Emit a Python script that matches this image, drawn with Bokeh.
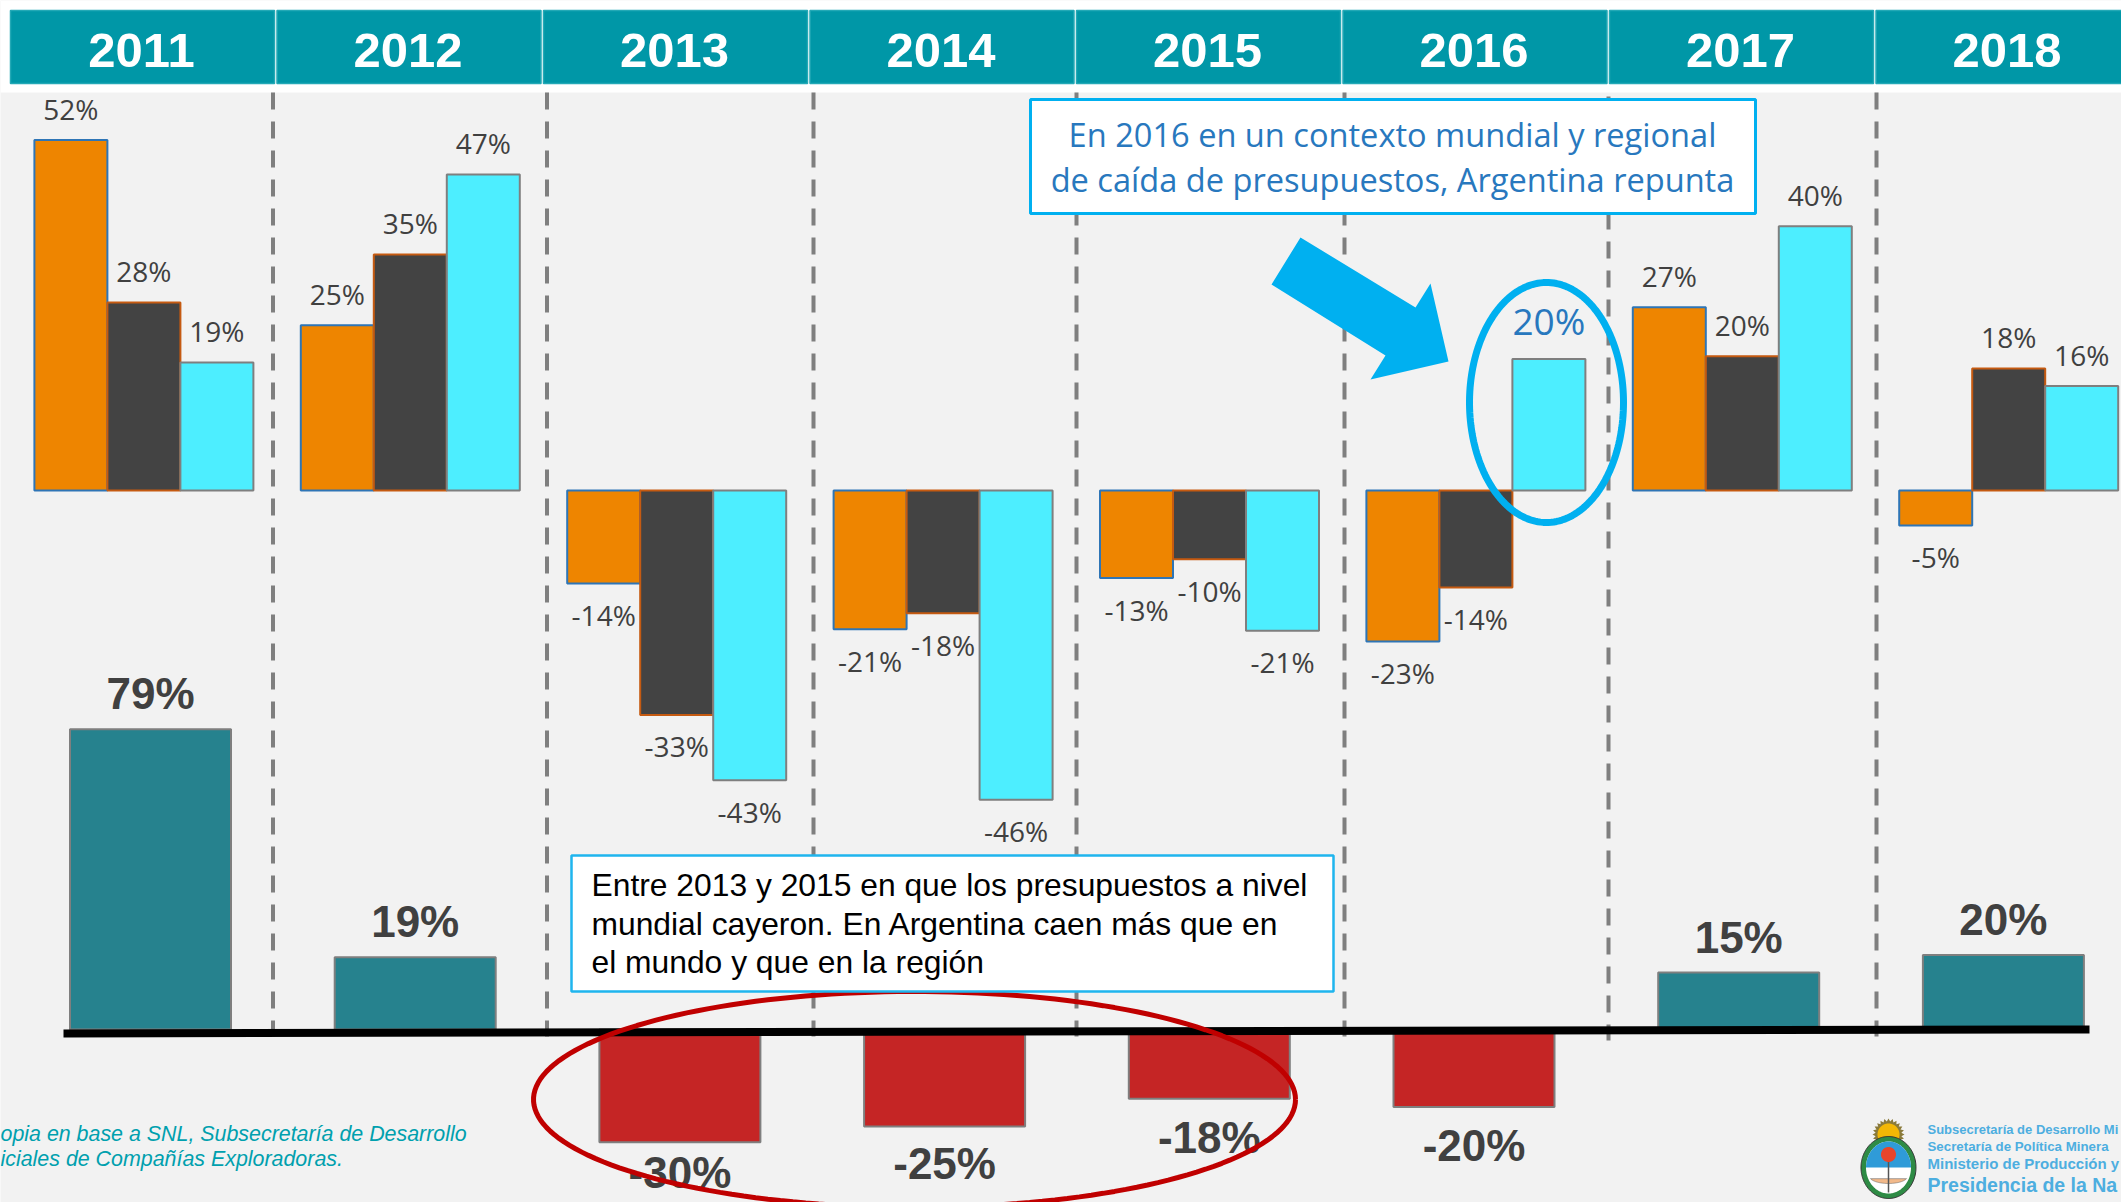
import numpy as np
from bokeh.plotting import figure
from bokeh.models import Range1d
from bokeh.core.properties import value
from bokeh.embed import file_html
from bokeh.resources import INLINE

# ---------- data ----------
YEARS = [2011, 2012, 2013, 2014, 2015, 2016, 2017, 2018]
ORANGE_VALUES = [52, 24.5, -13.8, -20.6, -13, -22.4, 27.2, -5.2]
DARK_VALUES = [27.9, 35, -33.3, -18.2, -10.2, -14.4, 19.9, 18.1]
CYAN_VALUES = [19, 46.9, -43, -45.9, -20.8, 19.5, 39.2, 15.5]
ORANGE_LABELS = ["52%", "25%", "-14%", "-21%", "-13%", "-23%", "27%", "-5%"]
DARK_LABELS = ["28%", "35%", "-33%", "-18%", "-10%", "-14%", "20%", "18%"]
CYAN_LABELS = ["19%", "47%", "-43%", "-46%", "-21%", "20%", "40%", "16%"]
NET_VALUES = [79, 19, -29.7, -25.5, -18.2, -20.4, 15, 19.6]
NET_LABELS = ["79%", "19%", "-30%", "-25%", "-18%", "-20%", "15%", "20%"]

# ---------- page geometry ----------
W, H = 2121, 1202
PAGE = 0
TOP_PERIOD, TOP_X0 = 266.4, 143.4
TOP_SCALE, TOP_BASE = 6.74, 490
NET_PERIOD, NET_X0 = 264.7, 150
NET_SCALE, NET_BASE = 3.8, 1029


def x_range_for(x0, period):
    start = 2011 - (x0 - PAGE) / period
    return Range1d(start, start + W / period)


def y_range_for(base, scale):
    top = (base - PAGE) / scale
    return Range1d(top - H / scale, top)


p = figure(width=W, height=H, output_backend="svg", toolbar_location=None,
           x_range=x_range_for(TOP_X0, TOP_PERIOD), y_range=y_range_for(TOP_BASE, TOP_SCALE),
           x_axis_location=None, y_axis_location=None, min_border=0,
           background_fill_color="#F2F2F2", border_fill_color="#F2F2F2", outline_line_color=None)
p.grid.visible = False
p.extra_x_ranges = {"net": x_range_for(NET_X0, NET_PERIOD), "px": Range1d(PAGE, PAGE + W)}
p.extra_y_ranges = {"net": y_range_for(NET_BASE, NET_SCALE), "px": Range1d(PAGE + H, PAGE)}
PX = dict(x_range_name="px", y_range_name="px")
NET = dict(x_range_name="net", y_range_name="net")

# ---------- header ----------
p.quad(left=[PAGE], right=[PAGE + W], top=[PAGE], bottom=[92], fill_color="white", line_color=None, **PX)
HEAD_X = [10 + 266.5 * i for i in range(len(YEARS))]
p.quad(left=HEAD_X, right=[x + 264 for x in HEAD_X], top=[10] * 8, bottom=[83] * 8,
       fill_color="#0097A7", line_color="#23A9B6", line_width=1.5, **PX)
p.text(x=[x + 131 for x in HEAD_X], y=[50] * 8, text=[str(y) for y in YEARS],
       text_font=value("Liberation Sans"), text_font_style="bold", text_font_size=value("49px"),
       text_color="white", text_align="center", text_baseline="middle", **PX)

# ---------- dashed separators ----------
for x, y0 in zip([272.5, 546.5, 813, 1076, 1344, 1608, 1876], [92, 92, 92, 92, 92, 96, 92]):
    p.line([x, x], [y0, 1036 if x != 1608 else 1040], line_color="#7F7F7F", line_width=4,
           line_dash="17 12", **PX)

# ---------- annual bars ----------
BAR_W = 73 / TOP_PERIOD
series = [
    (-BAR_W, ORANGE_VALUES, ORANGE_LABELS, "#EE8500", "#2E75B6"),
    (0, DARK_VALUES, DARK_LABELS, "#434343", "#C55A11"),
    (BAR_W, CYAN_VALUES, CYAN_LABELS, "#4DEEFF", "#7F7F7F"),
]
for shift, vals, labels, fill, edge in series:
    xs = [y + shift for y in YEARS]
    p.vbar(x=xs, top=vals, bottom=0, width=BAR_W, fill_color=fill, line_color=edge, line_width=2)
    normal = [i for i, t in enumerate(labels) if not (fill == "#4DEEFF" and t == "20%")]
    p.text(x=[xs[i] for i in normal], y=[vals[i] for i in normal], text=[labels[i] for i in normal],
           y_offset=[-31.5 if vals[i] > 0 else 31.5 for i in normal],
           text_font=value("Open Sans"), text_font_size=value("28px"), text_color="#404040",
           text_align="center", text_baseline="middle")
    for i in set(range(len(labels))) - set(normal):
        p.text(x=[xs[i]], y=[vals[i]], text=[labels[i]], y_offset=[-38.5],
               text_font=value("Open Sans"), text_font_size=value("37px"), text_color="#2878BE",
               text_align="center", text_baseline="middle")

# ---------- net bars ----------
NET_COLORS = ["#26828E" if v > 0 else "#C52525" for v in NET_VALUES]
p.vbar(x=YEARS, top=[max(v, 0) for v in NET_VALUES], bottom=[min(v, 0) for v in NET_VALUES],
       width=161 / NET_PERIOD, fill_color=NET_COLORS, line_color="#7F7F7F", line_width=2, **NET)
NET_DY = [-35.5, -35.5, 30.5, 37.5, 38.5, 38.5, -35.5, -35.5]
p.text(x=YEARS, y=NET_VALUES, text=NET_LABELS, y_offset=NET_DY,
       text_font=value("Liberation Sans"), text_font_style="bold", text_font_size=value("44px"),
       text_color="#404040", text_align="center", text_baseline="middle", **NET)

# zero line of the net chart
p.line([63, 2089], [1033, 1029], line_color="black", line_width=8, **PX)


def oval(cx, cy, w, h, t0=0.0, t1=2 * np.pi, n=180):
    t = np.linspace(t0, t1, n)
    return cx + w / 2 * np.cos(t), cy + h / 2 * np.sin(t)


# ---------- callouts ----------
xs, ys = oval(1546, 402, 154, 240)
p.line(xs, ys, line_color="#00B0F0", line_width=7, **PX)
xs, ys = oval(914, 1099, 762, 216)
p.line(xs, ys, line_color="#C00000", line_width=5, **PX)
p.patch([1300, 1415, 1430, 1448, 1370, 1385, 1271], [237, 307, 283, 361, 379, 355, 284],
        fill_color="#00B0F0", line_color=None, **PX)

p.quad(left=[1030], right=[1755], top=[99], bottom=[213], fill_color="white", line_color="#00B0F0",
       line_width=3, **PX)
p.text(x=[1392, 1392], y=[133.5, 178.5],
       text=["En 2016 en un contexto mundial y regional", "de caída de presupuestos, Argentina repunta"],
       text_font=value("Open Sans"), text_font_size=value("32.6px"), text_color="#2878BE",
       text_align="center", text_baseline="middle", **PX)

p.quad(left=[571], right=[1333], top=[855], bottom=[991], fill_color="white", line_color="#1FB5EE",
       line_width=2.5, **PX)
p.text(x=[591] * 3, y=[884, 923, 961],
       text=["Entre 2013 y 2015 en que los presupuestos a nivel",
             "mundial cayeron.  En Argentina caen más que en",
             "el mundo y que en la región"],
       text_font=value("Liberation Sans"), text_font_size=value("31.8px"), text_color="black",
       text_align="left", text_baseline="middle", **PX)

# ---------- source ----------
p.text(x=[0, 0], y=[1133, 1158],
       text=["opia en base a SNL, Subsecretaría de Desarrollo", "iciales de Compañías Exploradoras."],
       text_font=value("Liberation Sans"), text_font_style="italic", text_font_size=value("21.4px"),
       text_color="#00A0AE", text_align="left", text_baseline="middle", **PX)

# ---------- emblem ----------
ex, ey = 1888, 1167
t = np.linspace(0, 2 * np.pi, 49)
r = np.where(np.arange(49) % 2 == 0, 16, 13)
p.patch(ex + r * np.cos(t), 1134 + r * np.sin(t), fill_color="#8A7A3A", line_color=None, **PX)
xs, ys = oval(ex, 1134, 22, 22)
p.patch(xs, ys, fill_color="#F2B705", line_color=None, **PX)
xs, ys = oval(ex, ey, 55, 62)
p.patch(xs, ys, fill_color="#2E8B45", line_color="#333333", line_width=1, **PX)
xs, ys = oval(ex, ey, 45, 52)
p.patch(xs, ys, fill_color="white", line_color=None, **PX)
xs, ys = oval(ex, ey, 45, 52, np.pi, 2 * np.pi)
p.patch(xs, ys, fill_color="#2F9BD8", line_color=None, **PX)
xs, ys = oval(ex, 1176, 38, 14, np.pi * 0.1, np.pi * 0.9)
p.patch(xs, ys, fill_color="#F2B98A", line_color="#555555", line_width=0.5, **PX)
p.line([ex, ex], [1160, 1192], line_color="#555555", line_width=1.5, **PX)
xs, ys = oval(ex, 1154, 15, 15)
p.patch(xs, ys, fill_color="#E8452A", line_color=None, **PX)

# ---------- institutional text ----------
inst = [("Subsecretaría de Desarrollo Mi", 1129, "13px", "bold"), ("Secretaría de Política Minera", 1146, "13.3px", "bold"),
        ("Ministerio de Producción y", 1163, "15px", "bold"), ("Presidencia de la Na", 1184, "19.5px", "bold")]
for s, y, size, style in inst:
    p.text(x=[1927], y=[y], text=[s], text_font=value("Liberation Sans"), text_font_style=style,
           text_font_size=value(size), text_color="#4DAEE0", text_align="left", text_baseline="middle", **PX)

open("out.html", "w").write(file_html(p, INLINE))
